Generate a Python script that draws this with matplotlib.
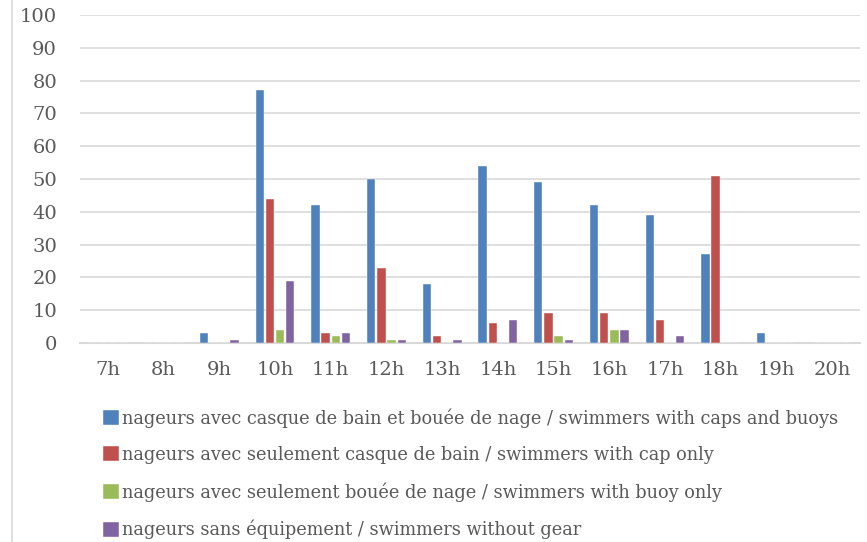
import numpy as np
import matplotlib.pyplot as plt
from matplotlib.lines import Line2D

hours = ['7h', '8h', '9h', '10h', '11h', '12h', '13h', '14h', '15h', '16h', '17h', '18h', '19h', '20h']
caps_buoys = [0, 0, 3, 77, 42, 50, 18, 54, 49, 42, 39, 27, 3, 0]
cap_only = [0, 0, 0, 44, 3, 23, 2, 6, 9, 9, 7, 51, 0, 0]
buoy_only = [0, 0, 0, 4, 2, 1, 0, 0, 2, 4, 0, 0, 0, 0]
no_gear = [0, 0, 1, 19, 3, 1, 1, 7, 1, 4, 2, 0, 0, 0]

labels = ['nageurs avec casque de bain et bouée de nage / swimmers with caps and buoys',
          'nageurs avec seulement casque de bain / swimmers with cap only',
          'nageurs avec seulement bouée de nage / swimmers with buoy only',
          'nageurs sans équipement / swimmers without gear']
colors = ['#4F81BD', '#C0504D', '#9BBB59', '#8064A2']
series = [caps_buoys, cap_only, buoy_only, no_gear]

plt.rcParams['font.family'] = ['DejaVu Serif']
txt = '#595959'

fig = plt.figure(figsize=(8.67, 5.42), dpi=100)
ax = fig.add_axes([80/867, 1-343/542, 780/867, 328/542])

x = np.arange(len(hours))
step = 0.183
width = 0.15
for i, (vals, c, lab) in enumerate(zip(series, colors, labels)):
    ax.bar(x + (i - 1.5) * step, vals, width, color=c, label=lab, zorder=3,
           edgecolor='white', linewidth=0.3)

ax.set_xlim(-0.5, len(hours) - 0.5)
ax.set_ylim(0, 100)
ax.set_yticks(range(0, 101, 10))
ax.set_xticks(x)
ax.set_xticklabels(hours)
ax.grid(axis='y', color='#d9d9d9', linewidth=1.2, zorder=0)
for s in ['top', 'right', 'left']:
    ax.spines[s].set_visible(False)
ax.spines['bottom'].set_color('#d9d9d9')
ax.spines['bottom'].set_linewidth(1.5)
ax.tick_params(axis='both', length=0, labelsize=14, colors=txt)
ax.tick_params(axis='x', pad=13)
ax.tick_params(axis='y', pad=16.5)

# chart frame line on the left
fig.add_artist(Line2D([12/867, 12/867], [0, 1], color='#d9d9d9', linewidth=1.2))

fig.legend(loc='upper left', bbox_to_anchor=(103/867, 1-408/542), frameon=False,
           fontsize=12.8, labelcolor=txt, handlelength=0.9, handleheight=0.9,
           handletextpad=0.15, labelspacing=1.03, borderaxespad=0, borderpad=0)

fig.savefig('out.png', dpi=100)
